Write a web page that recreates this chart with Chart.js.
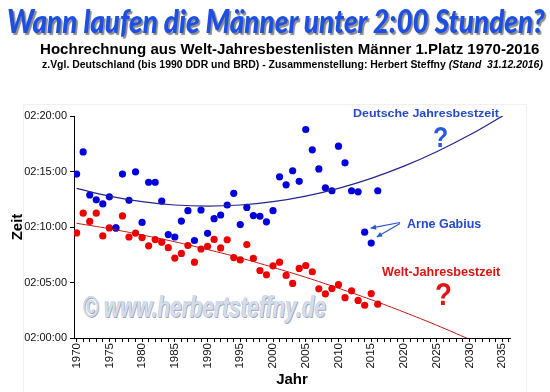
<!DOCTYPE html>
<html><head><meta charset="utf-8">
<script src="https://cdn.jsdelivr.net/npm/chart.js@4/dist/chart.umd.min.js"></script>
<style>
html,body{margin:0;padding:0;background:#fff;}
#stage{position:relative;width:550px;height:392px;overflow:hidden;background:#fff;}
#c{position:absolute;left:0;top:0;z-index:2;}
.txt{position:absolute;left:0;top:0;white-space:nowrap;line-height:1;transform-origin:0 0;z-index:3;}
#title{font:italic 900 33px Lato,Roboto,sans-serif;color:#1d50e2;text-shadow:2px 2px 1px #8c8c8c;}
#sub1{font:bold 15px "Liberation Sans",Arial,sans-serif;color:#000;}
#sub2{font:bold 11px "Liberation Sans",Arial,sans-serif;color:#000;}
#wm{font:italic bold 30px "Liberation Sans",Arial,sans-serif;color:#d5dcea;text-shadow:1px 1px 0.5px #9aa5bb, -0.5px -0.5px 0 #b9c2d3;z-index:1;}
#aDe{font:bold 11.5px "Liberation Sans",Arial,sans-serif;color:#2549c9;}
#qDe{font:bold 30px "Liberation Sans",Arial,sans-serif;color:#2a5ad8;}
#aArne{font:bold 13px "Liberation Sans",Arial,sans-serif;color:#2549c9;}
#aWelt{font:bold 12.5px "Liberation Sans",Arial,sans-serif;color:#e01212;}
#qWelt{font:bold 31px "Liberation Sans",Arial,sans-serif;color:#e01515;}
</style></head><body>
<div id="stage">
 <div class="txt" id="title">Wann laufen die Männer unter 2:00 Stunden?</div>
 <div class="txt" id="sub1">Hochrechnung aus Welt-Jahresbestenlisten Männer 1.Platz 1970-2016</div>
 <div class="txt" id="sub2">z.Vgl. Deutschland (bis 1990 DDR und BRD) - Zusammenstellung: Herbert Steffny <i>(Stand&nbsp; 31.12.2016)</i></div>
 <div class="txt" id="wm">© www.herbertsteffny.de</div>
 <div class="txt" id="aDe">Deutsche Jahresbestzeit</div>
 <div class="txt" id="qDe">?</div>
 <div class="txt" id="aArne">Arne Gabius</div>
 <div class="txt" id="aWelt">Welt-Jahresbestzeit</div>
 <div class="txt" id="qWelt">?</div>
 <canvas id="c" width="550" height="392"></canvas>
</div>
<script>
// ---------- data ----------
const years = [1970,1971,1972,1973,1974,1975,1976,1977,1978,1979,
               1980,1981,1982,1983,1984,1985,1986,1987,1988,1989,
               1990,1991,1992,1993,1994,1995,1996,1997,1998,1999,
               2000,2001,2002,2003,2004,2005,2006,2007,2008,2009,
               2010,2011,2012,2013,2014,2015,2016];
const worldBest = ["2:09:28","2:11:15","2:10:30","2:11:15","2:09:12","2:09:55","2:09:55","2:11:00","2:09:06","2:09:27",
                   "2:09:03","2:08:18","2:08:52","2:08:38","2:08:08","2:07:12","2:07:37","2:08:20","2:06:50","2:08:01",
                   "2:08:16","2:08:53","2:08:07","2:08:51","2:07:15","2:07:02","2:08:25","2:07:10","2:06:05","2:05:42",
                   "2:06:30","2:06:50","2:05:38","2:04:55","2:06:16","2:06:32","2:05:58","2:04:26","2:03:59","2:04:27",
                   "2:04:48","2:03:38","2:04:15","2:03:23","2:02:57","2:04:00","2:03:03"];
const germanBest = ["2:14:46","2:16:46","2:12:53","2:12:27","2:12:05","2:12:43","2:09:55","2:14:46","2:12:24","2:14:58",
                    "2:10:25","2:14:02","2:14:02","2:12:20","2:09:19","2:09:06","2:10:32","2:11:28","2:08:47","2:11:32",
                    "2:09:26","2:10:45","2:11:05","2:11:59","2:13:02","2:10:13","2:11:46","2:11:02","2:10:58","2:10:28",
                    "2:11:28","2:14:31","2:13:48","2:15:04","2:14:07","2:18:47","2:16:57","2:15:14","2:13:32","2:13:16",
                    "2:17:17","2:15:47","2:13:16","2:13:10","2:09:32","2:08:33","2:13:16"];
const worldTrendYears = [1970,1975,1980,1985,1990,1995,2000,2005,2010,2015,2020,2025,2030];
const worldTrend = ["2:10:20","2:09:51","2:09:17","2:08:40","2:07:58","2:07:13","2:06:22","2:05:28","2:04:29","2:03:27","2:02:20","2:01:09","1:59:53"];
const germanTrendYears = [1970,1975,1980,1985,1990,1995,2000,2005,2010,2015,2020,2025,2030,2035,2036];
const germanTrend = ["2:13:29","2:12:47","2:12:17","2:11:59","2:11:53","2:11:59","2:12:17","2:12:47","2:13:29","2:14:23","2:15:29","2:16:47","2:18:17","2:19:59","2:20:21"];
const xTickLabels = ["1970","1975","1980","1985","1990","1995","2000","2005","2010","2015","2020","2025","2030","2035"];
const yTickLabels = ["02:00:00","02:05:00","02:10:00","02:15:00","02:20:00"];
const gabiusYears = [2014, 2015];

// ---------- helpers ----------
function toSec(t){ const p=t.split(':').map(Number); return p[0]*3600+p[1]*60+p[2]; }
const pts = (xs, ts) => xs.map((x,i)=>({x:x, y:toSec(ts[i])}));
const Y0 = toSec(yTickLabels[0]), Y1 = toSec(yTickLabels[yTickLabels.length-1]);
const X0 = Number(xTickLabels[0]);

// ---------- text placement ----------
function place(id, left, right, baseline){
  const el = document.getElementById(id);
  const probe = document.createElement('span');
  probe.style.cssText = 'display:inline-block;width:0;height:0;';
  el.appendChild(probe);
  const base = probe.offsetTop;
  const w = el.offsetWidth;
  el.removeChild(probe);
  el.style.left = left + 'px';
  el.style.top = (baseline - base) + 'px';
  el.style.transform = 'scaleX(' + ((right-left)/w) + ')';
}
place('title', 7, 545, 33);
place('sub1', 40, 539, 54);
place('sub2', 42, 543, 68);
place('wm', 83, 326, 317);
place('aDe', 353, 499, 116.5);
place('qDe', 433, 448, 147);
place('aArne', 407, 481, 227.7);
place('aWelt', 382, 500, 275.7);
place('qWelt', 435, 452, 305);

// ---------- decorations plugin ----------
const deco = {
  id: 'deco',
  beforeDraw(chart){
    const ctx = chart.ctx;
    ctx.save();
    ctx.strokeStyle = '#f0f0f0'; ctx.lineWidth = 1;
    ctx.strokeRect(23.5, 104.5, 503, 300);
    ctx.restore();
  },
  afterDatasetsDraw(chart){
    const ctx = chart.ctx, xs = chart.scales.x, ys = chart.scales.y;
    const offs = [[6,-4],[5.5,-6]];
    const starts = [[400,222.5],[400,223.5]];
    ctx.save();
    ctx.strokeStyle = '#2a55d2'; ctx.fillStyle = '#2a55d2'; ctx.lineWidth = 1.2;
    gabiusYears.forEach((yr,i)=>{
      const idx = years.indexOf(yr);
      const px = xs.getPixelForValue(yr) + offs[i][0];
      const py = ys.getPixelForValue(toSec(germanBest[idx])) + offs[i][1];
      const [sx, sy] = starts[i];
      ctx.beginPath(); ctx.moveTo(sx, sy); ctx.lineTo(px, py); ctx.stroke();
      const a = Math.atan2(py-sy, px-sx), L = 6, W = 0.45;
      ctx.beginPath();
      ctx.moveTo(px, py);
      ctx.lineTo(px - L*Math.cos(a-W), py - L*Math.sin(a-W));
      ctx.lineTo(px - L*Math.cos(a+W), py - L*Math.sin(a+W));
      ctx.closePath(); ctx.fill();
    });
    ctx.restore();
  }
};

// ---------- chart ----------
const tickFontX = {family:'"Liberation Sans", Arial, sans-serif', size: 11.5};
const tickFontY = {family:'"Liberation Sans Narrow", "Arial Narrow", "Liberation Sans", sans-serif', size: 11};
new Chart(document.getElementById('c'), {
  type: 'scatter',
  data: {
    datasets: [
      { label:'Trend Deutschland', data: pts(germanTrendYears, germanTrend), showLine:true, tension:0.4,
        borderColor:'#24248f', borderWidth:1.2, pointRadius:0 },
      { label:'Trend Welt', data: pts(worldTrendYears, worldTrend), showLine:true, tension:0.4,
        borderColor:'#c41414', borderWidth:1, pointRadius:0 },
      { label:'Deutsche Jahresbestzeit', data: pts(years, germanBest), pointRadius:3.6,
        backgroundColor:'#0000dc', borderColor:'#0000dc', borderWidth:0 },
      { label:'Welt-Jahresbestzeit', data: pts(years, worldBest), pointRadius:3.6,
        backgroundColor:'#ee0000', borderColor:'#ee0000', borderWidth:0 }
    ]
  },
  options: {
    responsive:false, animation:false, events:[],
    devicePixelRatio:1,
    layout:{padding:{left:0, right:40, top:116, bottom:0}},
    plugins:{legend:{display:false}, tooltip:{enabled:false}},
    scales:{
      x:{ type:'linear', min:1969.6, max:2036.2,
          afterBuildTicks(s){ const t=[]; for(let v=X0; v<=2036; v++) t.push({value:v}); s.ticks=t; },
          afterFit(s){ s.height = 54; },
          ticks:{ autoSkip:false, minRotation:90, maxRotation:90, includeBounds:false, padding:1,
                  color:'#111', font:tickFontX,
                  callback:(v)=>{ const s=String(v); return xTickLabels.includes(s)?s:''; } },
          grid:{ drawOnChartArea:false, drawTicks:true, tickLength:4, color:'#000' },
          border:{ display:true, color:'#000', width:1 },
          title:{ display:true, text:'Jahr', color:'#000', padding:{top:0,bottom:3},
                  font:{family:'"Liberation Sans", Arial, sans-serif', size:15, weight:'bold'} }
      },
      y:{ type:'linear', min:Y0, max:Y1,
          afterBuildTicks(s){ s.ticks = yTickLabels.map(l=>({value:toSec(l)})); },
          afterFit(s){ s.width = 74; },
          ticks:{ padding:3, color:'#111', font:tickFontY,
                  callback:(v)=>{ const i = yTickLabels.findIndex(l=>toSec(l)===v); return i>=0?yTickLabels[i]:''; } },
          grid:{ drawOnChartArea:false, drawTicks:true, tickLength:4, color:'#000' },
          border:{ display:true, color:'#000', width:1 },
          title:{ display:true, text:'Zeit', color:'#000', padding:{top:8.5,bottom:0},
                  font:{family:'"Liberation Sans", Arial, sans-serif', size:15, weight:'bold'} }
      }
    }
  },
  plugins:[deco]
});
</script>
</body></html>
